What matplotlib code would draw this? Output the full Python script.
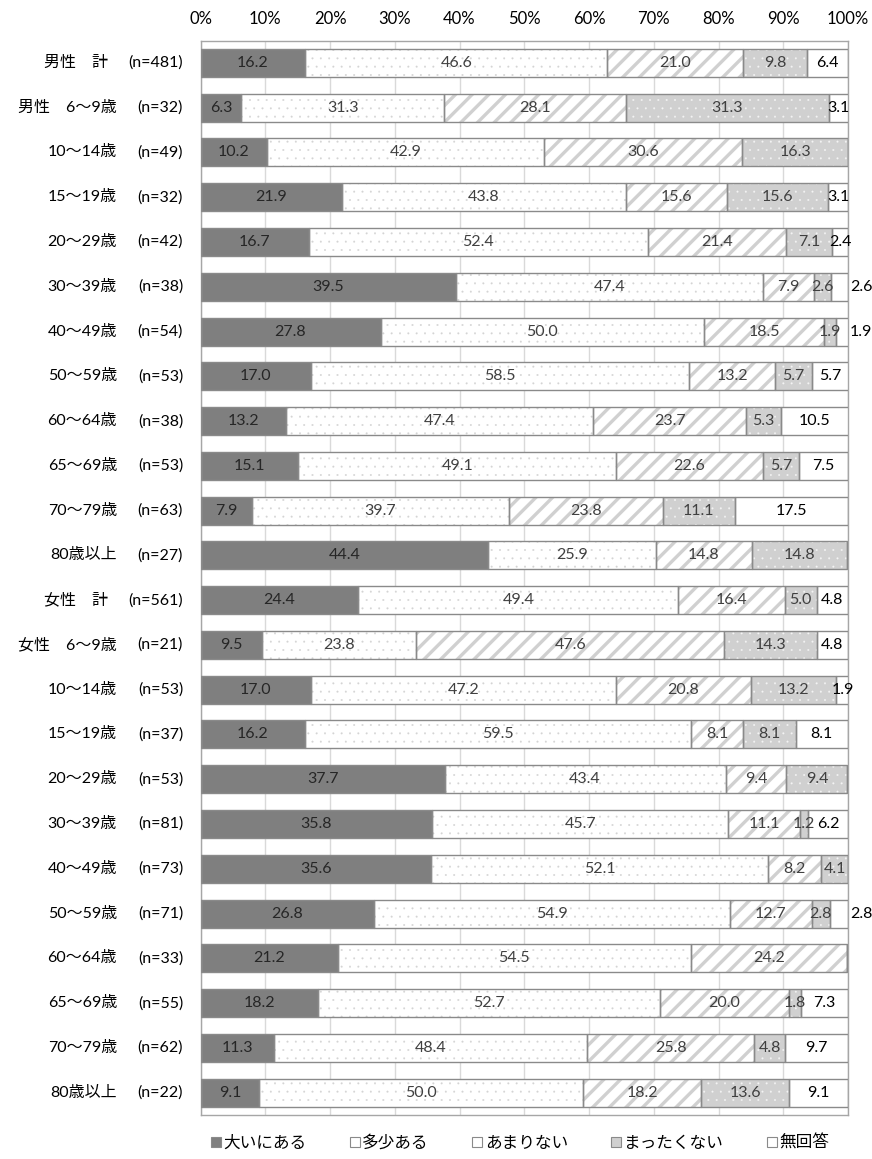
import matplotlib
matplotlib.use("Agg")
import matplotlib.pyplot as plt
from matplotlib.patches import Patch
from matplotlib.transforms import blended_transform_factory
import numpy as np

plt.rcParams['font.family'] = ['Lato', 'Noto Sans CJK JP', 'DejaVu Sans']

# ---- data -------------------------------------------------------------
groups = ["男性　計", "男性　6～9歳", "10～14歳", "15～19歳", "20～29歳", "30～39歳",
          "40～49歳", "50～59歳", "60～64歳", "65～69歳", "70～79歳", "80歳以上",
          "女性　計", "女性　6～9歳", "10～14歳", "15～19歳", "20～29歳", "30～39歳",
          "40～49歳", "50～59歳", "60～64歳", "65～69歳", "70～79歳", "80歳以上"]
sample_sizes = [481, 32, 49, 32, 42, 38, 54, 53, 38, 53, 63, 27,
                561, 21, 53, 37, 53, 81, 73, 71, 33, 55, 62, 22]

series_names = ["大いにある", "多少ある", "あまりない", "まったくない", "無回答"]
very_much = [16.2, 6.3, 10.2, 21.9, 16.7, 39.5, 27.8, 17.0, 13.2, 15.1, 7.9, 44.4,
             24.4, 9.5, 17.0, 16.2, 37.7, 35.8, 35.6, 26.8, 21.2, 18.2, 11.3, 9.1]
somewhat = [46.6, 31.3, 42.9, 43.8, 52.4, 47.4, 50.0, 58.5, 47.4, 49.1, 39.7, 25.9,
            49.4, 23.8, 47.2, 59.5, 43.4, 45.7, 52.1, 54.9, 54.5, 52.7, 48.4, 50.0]
not_much = [21.0, 28.1, 30.6, 15.6, 21.4, 7.9, 18.5, 13.2, 23.7, 22.6, 23.8, 14.8,
            16.4, 47.6, 20.8, 8.1, 9.4, 11.1, 8.2, 12.7, 24.2, 20.0, 25.8, 18.2]
not_at_all = [9.8, 31.3, 16.3, 15.6, 7.1, 2.6, 1.9, 5.7, 5.3, 5.7, 11.1, 14.8,
              5.0, 14.3, 13.2, 8.1, 9.4, 1.2, 4.1, 2.8, 0.0, 1.8, 4.8, 13.6]
no_answer = [6.4, 3.1, 0.0, 3.1, 2.4, 2.6, 1.9, 5.7, 10.5, 7.5, 17.5, 0.0,
             4.8, 4.8, 1.9, 8.1, 0.0, 6.2, 0.0, 2.8, 0.0, 7.3, 9.7, 9.1]
x_ticks = [0, 10, 20, 30, 40, 50, 60, 70, 80, 90, 100]

# rows whose "no answer" label sits outside the bar
outside_rows = {5, 6, 19}

# ---- styles -------------------------------------------------------------
face_colors = ["#7f7f7f", "#ffffff", "#ffffff", "#d0d0d0", "#ffffff"]
hatch_styles = [None, "..", "//", "..", None]
hatch_colors = [None, "#d4d4d4", "#d0d0d0", "#f4f4f4", None]
hatch_widths = [1.0, 0.2, 2.4, 0.2, 1.0]
label_colors = ["#262626", "#404040", "#404040", "#404040", "#000000"]
edge_color = "#8a8a8a"

fig = plt.figure(figsize=(8.72, 11.59), dpi=100)
ax = fig.add_axes([200.5 / 872, 1 - 1115 / 1159, 647.5 / 872, (1115 - 40.5) / 1159])

series = [very_much, somewhat, not_much, not_at_all, no_answer]
y = np.arange(len(groups))
left = np.zeros(len(groups))
bar_h = 0.625

for k, vals in enumerate(series):
    vals = np.array(vals)
    ax.barh(y, vals, left=left, height=bar_h, color=face_colors[k],
            edgecolor="none", linewidth=0, zorder=2)
    if hatch_styles[k]:
        plt.rcParams['hatch.linewidth'] = hatch_widths[k]
        ax.barh(y, vals, left=left, height=bar_h, color="none",
                edgecolor=hatch_colors[k], hatch=hatch_styles[k],
                linewidth=0, zorder=3)
    ax.barh(y, vals, left=left, height=bar_h, color="none",
            edgecolor=edge_color, linewidth=1.0, zorder=4)
    for i, v in enumerate(vals):
        if v <= 0:
            continue
        if k == 4 and i in outside_rows:
            ax.text(100.3, i, f"{v:.1f}", ha="left", va="center",
                    fontsize=11.5, color=label_colors[k], zorder=5, clip_on=False)
        else:
            ax.text(left[i] + v / 2, i, f"{v:.1f}", ha="center", va="center",
                    fontsize=11.5, color=label_colors[k], zorder=5, clip_on=False)
    left += vals

ax.set_xlim(0, 100)
ax.set_ylim(len(groups) - 0.5, -0.5)
ax.set_xticks(x_ticks)
ax.set_xticklabels([f"{t}%" for t in x_ticks])
ax.xaxis.tick_top()
ax.tick_params(axis="x", length=0, pad=10, labelsize=12, colors="#000000")
ax.set_yticks([])
ax.grid(axis="x", color="#d9d9d9", linewidth=1.0, zorder=0)
ax.set_axisbelow(True)
for s in ax.spines.values():
    s.set_color("#a6a6a6")
    s.set_linewidth(1.0)

# category and sample-size labels on the left
tr = blended_transform_factory(fig.transFigure, ax.transData)
for i, (g, n) in enumerate(zip(groups, sample_sizes)):
    name_x = 108 if g.endswith("計") else 117
    ax.text(name_x / 872, i, g, transform=tr, ha="right", va="center",
            fontsize=11.5, color="#000000")
    ax.text(183 / 872, i, f"(n={n})", transform=tr, ha="right", va="center",
            fontsize=11.5, color="#000000")

handles = [Patch(facecolor=face_colors[k], edgecolor=edge_color, linewidth=0.8)
           for k in range(5)]
fig.legend(handles, series_names, loc="center", bbox_to_anchor=(520 / 872, 1 - 1143 / 1159),
           ncol=5, frameon=False, fontsize=12, handlelength=0.6, handleheight=0.6,
           handletextpad=0.15, columnspacing=2.6)

fig.savefig("out.png", dpi=100)
